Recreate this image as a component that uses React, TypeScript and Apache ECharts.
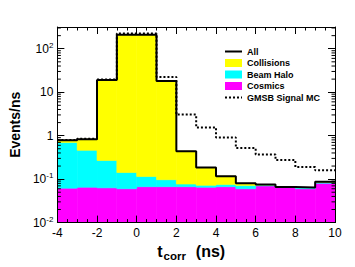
import React, { useEffect, useRef } from "react";
import * as echarts from "echarts";

// ---- data ----
const binStarts = [-4, -3, -2, -1, 0, 1, 2, 3, 4, 5, 6, 7, 8, 9];
const BIN_WIDTH = 1;
const cosmics = [0.062, 0.065, 0.063, 0.06, 0.067, 0.067, 0.067, 0.065, 0.067, 0.06, 0.07, 0.064, 0.06, 0.08];
const beamHalo = [0.638, 0.395, 0.207, 0.082, 0.048, 0.03, 0.01, 0.007, 0.008, 0.011, 0.003, 0.002, 0.004, 0.005];
const collisions = [0.08, 0.37, 18.7, 209.9, 209.9, 17.9, 0.363, 0.113, 0.042, 0.009, 0.002, 0, 0, 0.0025];
const allEvents = [0.78, 0.83, 19.0, 210, 210, 18.0, 0.44, 0.185, 0.117, 0.08, 0.075, 0.066, 0.064, 0.0875];
const gmsbSignal = [0.8, 0.85, 19.5, 225, 225, 22.5, 3.05, 1.55, 0.91, 0.52, 0.37, 0.275, 0.19, 0.16];
const yMinorTickValues = [
  0.02, 0.03, 0.04, 0.05, 0.06, 0.07, 0.08, 0.09,
  0.2, 0.3, 0.4, 0.5, 0.6, 0.7, 0.8, 0.9,
  2, 3, 4, 5, 6, 7, 8, 9,
  20, 30, 40, 50, 60, 70, 80, 90,
  200, 300,
];
const X_MIN = -4;
const X_MAX = 10;
const Y_MIN = 0.01;
const Y_MAX = 316.2;

const FONT = "'Liberation Sans', Arial, Helvetica, sans-serif";

function fillSeries(name: string, color: string, lower: number[], upper: number[]) {
  return {
    name,
    type: "custom",
    coordinateSystem: "cartesian2d",
    clip: true,
    z: 1,
    itemStyle: { color },
    encode: { x: [0, 1], y: [2, 3] },
    data: binStarts.map((s, i) => [s, s + BIN_WIDTH, lower[i], upper[i]]),
    renderItem: (params: any, api: any) => {
      const a = api.coord([api.value(0), api.value(3)]);
      const b = api.coord([api.value(1), api.value(2)]);
      return {
        type: "rect",
        shape: { x: a[0], y: a[1], width: b[0] - a[0], height: b[1] - a[1] },
        style: { fill: color, stroke: color, lineWidth: 0.6 },
      };
    },
  };
}

function stepData(values: number[]) {
  const pts = binStarts.map((s, i) => [s, values[i]]);
  pts.push([binStarts[binStarts.length - 1] + BIN_WIDTH, values[values.length - 1]]);
  return pts;
}

export default function App() {
  const ref = useRef<HTMLDivElement>(null);
  useEffect(() => {
    if (!ref.current) return;
    const chart = echarts.init(ref.current, undefined, { renderer: "svg" });

    const cosLow = binStarts.map(() => Y_MIN);
    const cosUp = cosmics.slice();
    const haloUp = cosmics.map((c, i) => c + beamHalo[i]);
    const collUp = haloUp.map((h, i) => h + collisions[i]);

    const yLabel = (v: number) => {
      const e = Math.log10(v);
      const r = Math.round(e);
      if (Math.abs(e - r) > 1e-6) return "";
      if (r === 0) return "1";
      if (r === 1) return "10";
      return `{b|10}{s|${r}}`;
    };

    const tickLine = { lineStyle: { color: "#000", width: 1 } };
    const axisLine = { show: true, onZero: false, lineStyle: { color: "#000", width: 1 } };

    chart.setOption({
      animation: false,
      backgroundColor: "#fff",
      textStyle: { fontFamily: FONT },
      grid: { left: 52, right: 20, top: 27, bottom: 41 },
      legend: {
        orient: "vertical",
        left: 219,
        top: 41,
        itemWidth: 17,
        itemHeight: 8,
        itemGap: 0.5,
        textStyle: { fontFamily: FONT, fontSize: 9, fontWeight: "bold", color: "#000", lineHeight: 11 },
        data: [
          { name: "All", itemStyle: { opacity: 0 } },
          { name: "Collisions", icon: "rect" },
          { name: "Beam Halo", icon: "rect" },
          { name: "Cosmics", icon: "rect" },
          { name: "GMSB Signal MC", itemStyle: { opacity: 0 } },
        ],
      },
      xAxis: [
        {
          type: "value",
          min: X_MIN,
          max: X_MAX,
          interval: 2,
          z: 10,
          name: "{t|t}{s|corr}{n|(ns)}",
          nameLocation: "middle",
          nameGap: 15,
          nameTextStyle: {
            rich: {
              t: { fontFamily: FONT, fontSize: 16, fontWeight: "bold", color: "#000" },
              s: { fontFamily: FONT, fontSize: 11.5, fontWeight: "bold", color: "#000", padding: [9, 0, 0, 1] },
              n: { fontFamily: FONT, fontSize: 16, fontWeight: "bold", color: "#000", padding: [0, 10, 0, 10] },
            },
          },
          axisLine,
          axisTick: { inside: true, length: 7, ...tickLine },
          minorTick: { show: true, splitNumber: 4, length: 3.5, ...tickLine },
          axisLabel: { fontFamily: FONT, fontSize: 12, color: "#000", margin: 4 },
          splitLine: { show: false },
        },
        {
          type: "value",
          position: "top",
          min: X_MIN,
          max: X_MAX,
          interval: 2,
          z: 10,
          axisLine,
          axisTick: { inside: true, length: 7, ...tickLine },
          minorTick: { show: true, splitNumber: 4, length: 3.5, ...tickLine },
          axisLabel: { show: false },
          splitLine: { show: false },
        },
      ],
      yAxis: [
        {
          type: "log",
          logBase: 10,
          min: Y_MIN,
          max: Y_MAX,
          z: 10,
          name: "Events/ns",
          nameLocation: "middle",
          nameGap: 34,
          nameTextStyle: { fontFamily: FONT, fontSize: 14, fontWeight: "bold", color: "#000" },
          axisLine,
          axisTick: { inside: true, length: 7, ...tickLine },
          axisLabel: {
            fontFamily: FONT,
            fontSize: 12,
            color: "#000",
            margin: 4,
            showMaxLabel: false,
            formatter: yLabel,
            rich: {
              b: { fontFamily: FONT, fontSize: 12, color: "#000" },
              s: { fontFamily: FONT, fontSize: 8, color: "#000", padding: [0, 0, 7, 0] },
            },
          },
          splitLine: { show: false },
        },
        {
          type: "log",
          logBase: 10,
          position: "right",
          min: Y_MIN,
          max: Y_MAX,
          z: 10,
          axisLine,
          axisTick: { inside: true, length: 7, ...tickLine },
          axisLabel: { show: false },
          splitLine: { show: false },
        },
      ],
      series: [
        fillSeries("Cosmics", "#ff00ff", cosLow, cosUp),
        fillSeries("Beam Halo", "#00ffff", cosUp, haloUp),
        fillSeries("Collisions", "#ffff00", haloUp, collUp),
        {
          name: "All",
          type: "line",
          step: "end",
          symbol: "none",
          z: 4,
          color: "#000",
          lineStyle: { color: "#000", width: 2 },
          data: stepData(allEvents),
        },
        {
          name: "GMSB Signal MC",
          type: "line",
          step: "end",
          symbol: "none",
          z: 5,
          color: "#000",
          lineStyle: { color: "#000", width: 2, type: [2, 2] },
          data: stepData(gmsbSignal),
        },
        {
          name: "yMinorTicks",
          type: "custom",
          coordinateSystem: "cartesian2d",
          z: 11,
          silent: true,
          encode: { x: 0, y: 1 },
          data: yMinorTickValues.map((v) => [X_MIN, v]),
          renderItem: (params: any, api: any) => {
            const p = api.coord([api.value(0), api.value(1)]);
            const cs = params.coordSys;
            const y = p[1];
            return {
              type: "group",
              children: [
                { type: "line", shape: { x1: cs.x, y1: y, x2: cs.x + 3.5, y2: y }, style: { stroke: "#000", lineWidth: 1 } },
                {
                  type: "line",
                  shape: { x1: cs.x + cs.width - 3.5, y1: y, x2: cs.x + cs.width, y2: y },
                  style: { stroke: "#000", lineWidth: 1 },
                },
              ],
            };
          },
        },
      ],
    });
    return () => chart.dispose();
  }, []);
  return <div ref={ref} style={{ position: "absolute", left: 0, top: 0, width: 355, height: 267 }} />;
}
